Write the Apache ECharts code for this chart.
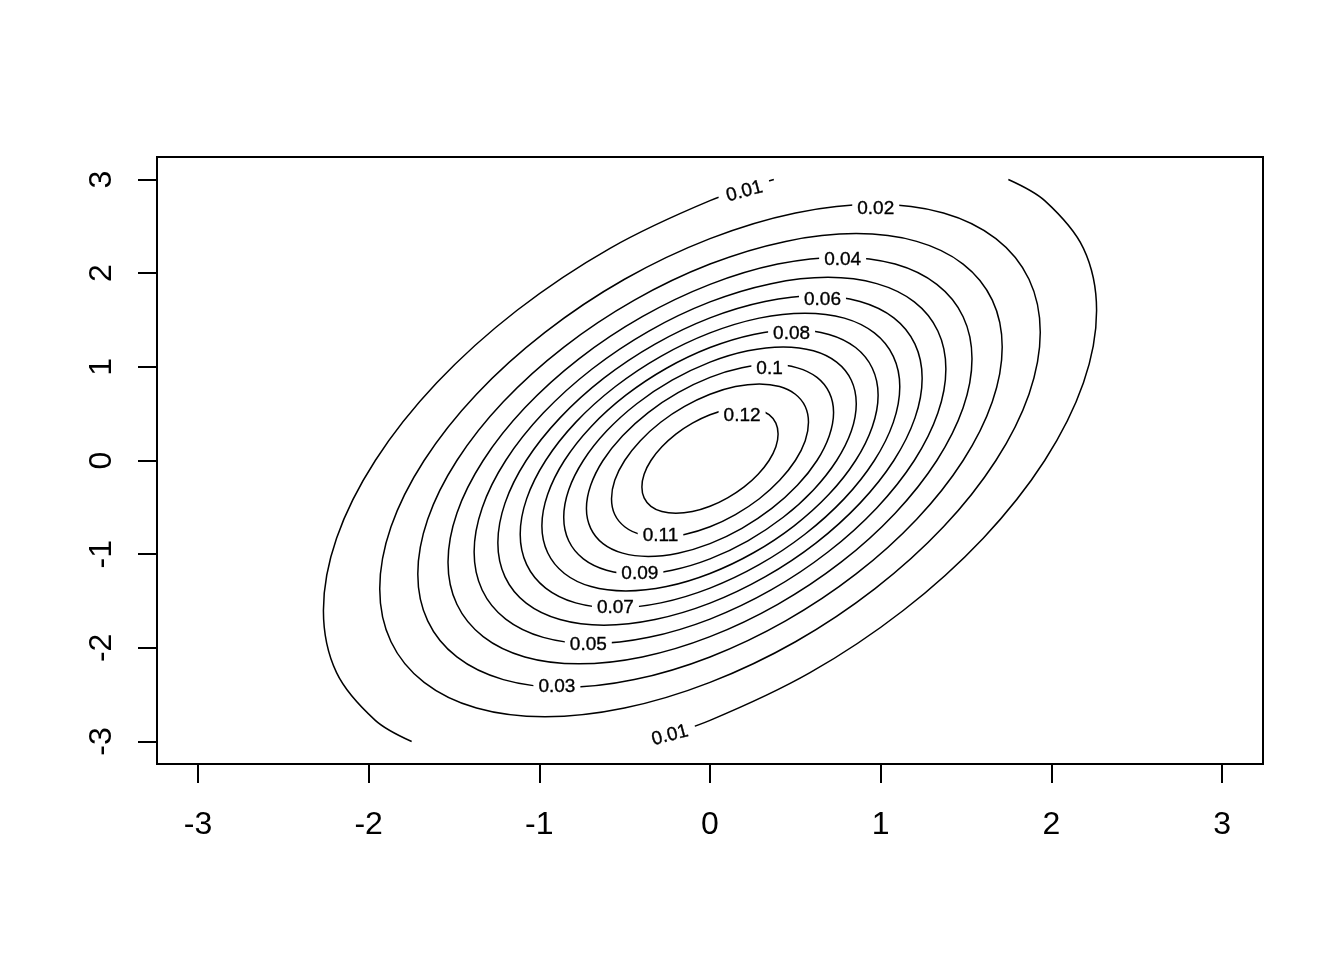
<!DOCTYPE html>
<html>
<head>
<meta charset="utf-8">
<script src="https://cdn.jsdelivr.net/npm/echarts@6/dist/echarts.min.js"></script>
<style>
  html, body { margin: 0; padding: 0; background: #fff; }
  #main { width: 1344px; height: 960px; }
</style>
</head>
<body>
<div id="main"></div>
<script>
// ---- data ----
const xTicks = [-3, -2, -1, 0, 1, 2, 3];
const yTicks = [-3, -2, -1, 0, 1, 2, 3];
const levels = ['0.01', '0.01', '0.02', '0.03', '0.04', '0.05', '0.06', '0.07', '0.08', '0.09', '0.1', '0.11', '0.12'];

// contour 0.01 (cut by the top and bottom of the grid)
const c01Left = [[0.374,3.0],[0,2.774],[-0.586,2.265],[-1.132,1.601],[-1.601,0.829],[-1.961,0],[-2.188,-0.829],[-2.265,-1.601],[-2.188,-2.265],[-1.961,-2.774],[-1.748,-3.0]];
const c01Right = [[-0.374,-3.0],[0,-2.774],[0.586,-2.265],[1.132,-1.601],[1.601,-0.829],[1.961,0],[2.188,0.829],[2.265,1.601],[2.188,2.265],[1.961,2.774],[1.748,3.0]];
// closed contours
const c02 = [[1.935,1.368],[1.869,1.935],[1.675,2.369],[1.368,2.643],[0.967,2.736],[0.501,2.643],[0,2.369],[-0.501,1.935],[-0.967,1.368],[-1.368,0.708],[-1.675,0],[-1.869,-0.708],[-1.935,-1.368],[-1.869,-1.935],[-1.675,-2.369],[-1.368,-2.643],[-0.967,-2.736],[-0.501,-2.643],[0,-2.369],[0.501,-1.935],[0.967,-1.368],[1.368,-0.708],[1.675,0],[1.869,0.708]];
const c03 = [[1.712,1.211],[1.654,1.712],[1.483,2.097],[1.211,2.339],[0.856,2.422],[0.443,2.339],[0,2.097],[-0.443,1.712],[-0.856,1.211],[-1.211,0.627],[-1.483,0],[-1.654,-0.627],[-1.712,-1.211],[-1.654,-1.712],[-1.483,-2.097],[-1.211,-2.339],[-0.856,-2.422],[-0.443,-2.339],[0,-2.097],[0.443,-1.712],[0.856,-1.211],[1.211,-0.627],[1.483,0],[1.654,0.627]];
const c04 = [[1.535,1.085],[1.483,1.535],[1.329,1.880],[1.085,2.097],[0.768,2.171],[0.397,2.097],[0,1.880],[-0.397,1.535],[-0.768,1.085],[-1.085,0.562],[-1.329,0],[-1.483,-0.562],[-1.535,-1.085],[-1.483,-1.535],[-1.329,-1.880],[-1.085,-2.097],[-0.768,-2.171],[-0.397,-2.097],[0,-1.880],[0.397,-1.535],[0.768,-1.085],[1.085,-0.562],[1.329,0],[1.483,0.562]];
const c05 = [[1.382,0.977],[1.335,1.382],[1.197,1.693],[0.977,1.888],[0.691,1.955],[0.358,1.888],[0,1.693],[-0.358,1.382],[-0.691,0.977],[-0.977,0.506],[-1.197,0],[-1.335,-0.506],[-1.382,-0.977],[-1.335,-1.382],[-1.197,-1.693],[-0.977,-1.888],[-0.691,-1.955],[-0.358,-1.888],[0,-1.693],[0.358,-1.382],[0.691,-0.977],[0.977,-0.506],[1.197,0],[1.335,0.506]];
const c06 = [[1.243,0.879],[1.201,1.243],[1.077,1.523],[0.879,1.698],[0.622,1.758],[0.322,1.698],[0,1.523],[-0.322,1.243],[-0.622,0.879],[-0.879,0.455],[-1.077,0],[-1.201,-0.455],[-1.243,-0.879],[-1.201,-1.243],[-1.077,-1.523],[-0.879,-1.698],[-0.622,-1.758],[-0.322,-1.698],[0,-1.523],[0.322,-1.243],[0.622,-0.879],[0.879,-0.455],[1.077,0],[1.201,0.455]];
const c07 = [[1.112,0.787],[1.074,1.112],[0.963,1.362],[0.787,1.520],[0.556,1.573],[0.288,1.520],[0,1.362],[-0.288,1.112],[-0.556,0.787],[-0.787,0.407],[-0.963,0],[-1.074,-0.407],[-1.112,-0.787],[-1.074,-1.112],[-0.963,-1.362],[-0.787,-1.520],[-0.556,-1.573],[-0.288,-1.520],[0,-1.362],[0.288,-1.112],[0.556,-0.787],[0.787,-0.407],[0.963,0],[1.074,0.407]];
const c08 = [[0.985,0.697],[0.951,0.985],[0.853,1.206],[0.697,1.346],[0.493,1.393],[0.255,1.346],[0,1.206],[-0.255,0.985],[-0.493,0.697],[-0.697,0.361],[-0.853,0],[-0.951,-0.361],[-0.985,-0.697],[-0.951,-0.985],[-0.853,-1.206],[-0.697,-1.346],[-0.493,-1.393],[-0.255,-1.346],[0,-1.206],[0.255,-0.985],[0.493,-0.697],[0.697,-0.361],[0.853,0],[0.951,0.361]];
const c09 = [[0.857,0.606],[0.828,0.857],[0.742,1.050],[0.606,1.171],[0.429,1.212],[0.222,1.171],[0,1.050],[-0.222,0.857],[-0.429,0.606],[-0.606,0.314],[-0.742,0],[-0.828,-0.314],[-0.857,-0.606],[-0.828,-0.857],[-0.742,-1.050],[-0.606,-1.171],[-0.429,-1.212],[-0.222,-1.171],[0,-1.050],[0.222,-0.857],[0.429,-0.606],[0.606,-0.314],[0.742,0],[0.828,0.314]];
const c10 = [[0.724,0.512],[0.699,0.724],[0.627,0.887],[0.512,0.989],[0.362,1.024],[0.187,0.989],[0,0.887],[-0.187,0.724],[-0.362,0.512],[-0.512,0.265],[-0.627,0],[-0.699,-0.265],[-0.724,-0.512],[-0.699,-0.724],[-0.627,-0.887],[-0.512,-0.989],[-0.362,-1.024],[-0.187,-0.989],[0,-0.887],[0.187,-0.724],[0.362,-0.512],[0.512,-0.265],[0.627,0],[0.699,0.265]];
const c11 = [[0.577,0.408],[0.558,0.577],[0.500,0.707],[0.408,0.789],[0.289,0.817],[0.149,0.789],[0,0.707],[-0.149,0.577],[-0.289,0.408],[-0.408,0.211],[-0.500,0],[-0.558,-0.211],[-0.577,-0.408],[-0.558,-0.577],[-0.500,-0.707],[-0.408,-0.789],[-0.289,-0.817],[-0.149,-0.789],[0,-0.707],[0.149,-0.577],[0.289,-0.408],[0.408,-0.211],[0.500,0],[0.558,0.211]];
const c12 = [[0.399,0.282],[0.386,0.399],[0.346,0.489],[0.282,0.545],[0.200,0.564],[0.103,0.545],[0,0.489],[-0.103,0.399],[-0.200,0.282],[-0.282,0.146],[-0.346,0],[-0.386,-0.146],[-0.399,-0.282],[-0.386,-0.399],[-0.346,-0.489],[-0.282,-0.545],[-0.200,-0.564],[-0.103,-0.545],[0,-0.489],[0.103,-0.399],[0.200,-0.282],[0.282,-0.146],[0.346,0],[0.386,0.146]];

// contour labels (text and where they sit, in data units)
const labelTexts = ['0.01', '0.02', '0.04', '0.06', '0.08', '0.1', '0.12', '0.11', '0.09', '0.07', '0.05', '0.03', '0.01'];
const labelAnchors = [[0.202, 2.871], [0.971, 2.689], [0.777, 2.140], [0.659, 1.718], [0.478, 1.350], [0.349, 0.977], [0.188, 0.480], [-0.290, -0.800], [-0.411, -1.211], [-0.554, -1.574], [-0.713, -1.964], [-0.897, -2.417], [-0.235, -2.935]];
const labelAngles = [15, 0, 0, 0, 0, 0, 0, 0, 0, 0, 0, 0, 15];

// ---- chart ----
const contourList = [c01Left, c01Right, c02, c03, c04, c05, c06, c07, c08, c09, c10, c11, c12];
const closedList = [false, false, true, true, true, true, true, true, true, true, true, true, true];
const FONT = "'Liberation Sans', Arial, sans-serif";

const chart = echarts.init(document.getElementById('main'), null, { renderer: 'canvas' });

const option = {
  animation: false,
  backgroundColor: '#ffffff',
  grid: {
    left: 157, right: 81, top: 157, bottom: 196,
    show: true, borderColor: '#000', borderWidth: 2, backgroundColor: 'transparent',
    containLabel: false
  },
  xAxis: {
    type: 'value', min: -3.24, max: 3.24, position: 'bottom',
    axisLine: { show: false, onZero: false },
    splitLine: { show: false },
    axisTick: { show: true, inside: false, length: 19, customValues: xTicks, lineStyle: { color: '#000', width: 2 } },
    axisLabel: { customValues: xTicks, margin: 45, fontSize: 32, lineHeight: 32, fontFamily: FONT, color: '#000' }
  },
  yAxis: {
    type: 'value', min: -3.24, max: 3.24, position: 'left',
    axisLine: { show: false, onZero: false },
    splitLine: { show: false },
    axisTick: { show: true, inside: false, length: 19, customValues: yTicks, lineStyle: { color: '#000', width: 2 } },
    axisLabel: { customValues: yTicks, rotate: 90, margin: 39, fontSize: 32, lineHeight: 32, fontFamily: FONT, color: '#000' }
  },
  series: [
    {
      type: 'custom',
      coordinateSystem: 'cartesian2d',
      silent: true,
      z: 2,
      data: contourList.map((c, i) => ({ name: levels[i], value: [c[0][0], c[0][1]] })),
      renderItem: function (params, api) {
        const c = contourList[params.dataIndex];
        const closed = closedList[params.dataIndex];
        const pts = c.map(p => api.coord(p));
        return {
          type: closed ? 'polygon' : 'polyline',
          shape: { points: pts, smooth: 0.33 },
          style: { fill: 'none', stroke: '#000', lineWidth: 1.5 },
          silent: true
        };
      }
    },
    {
      type: 'scatter',
      z: 10,
      silent: true,
      symbol: 'rect',
      symbolSize: 1,
      itemStyle: { color: 'rgba(0,0,0,0)' },
      data: labelTexts.map((t, i) => ({
        name: t, value: labelAnchors[i],
        label: { rotate: labelAngles[i], padding: labelAngles[i] ? [5, 8] : [4, 5] }
      })),
      label: {
        show: true,
        position: 'inside',
        formatter: p => p.name,
        fontSize: 19,
        lineHeight: 15,
        fontFamily: FONT,
        color: '#000',
        opacity: 1,
        textBorderColor: '#000',
        textBorderWidth: 0.35,
        backgroundColor: '#fff',
        padding: [4, 5]
      }
    }
  ]
};
chart.setOption(option);
</script>
</body>
</html>
